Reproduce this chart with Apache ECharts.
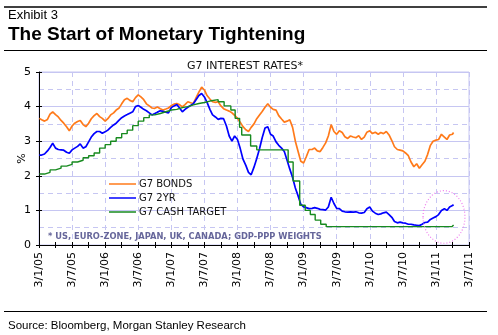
<!DOCTYPE html>
<html>
<head>
<meta charset="utf-8">
<script src="https://cdn.jsdelivr.net/npm/echarts@6/dist/echarts.min.js"></script>
<style>
  html, body { margin: 0; padding: 0; background: #fff; }
  #chart { width: 498px; height: 335px; }
</style>
</head>
<body>
<div id="chart"></div>
<script>
// Observation dates (twice a month) shared by the bond and 2-year series
const obsDates = [
  '2005-01-03','2005-01-16','2005-02-01','2005-02-16','2005-03-01','2005-03-16','2005-04-01','2005-04-16','2005-05-01','2005-05-16','2005-06-01','2005-06-16',
  '2005-07-01','2005-07-16','2005-08-01','2005-08-16','2005-09-01','2005-09-16','2005-10-01','2005-10-16','2005-11-01','2005-11-16','2005-12-01','2005-12-16',
  '2006-01-01','2006-01-16','2006-02-01','2006-02-16','2006-03-01','2006-03-16','2006-04-01','2006-04-16','2006-05-01','2006-05-16','2006-06-01','2006-06-16',
  '2006-07-01','2006-07-16','2006-08-01','2006-08-16','2006-09-01','2006-09-16','2006-10-01','2006-10-16','2006-11-01','2006-11-16','2006-12-01','2006-12-16',
  '2007-01-01','2007-01-16','2007-02-01','2007-02-16','2007-03-01','2007-03-16','2007-04-01','2007-04-16','2007-05-01','2007-05-16','2007-06-01','2007-06-16',
  '2007-07-01','2007-07-16','2007-08-01','2007-08-16','2007-09-01','2007-09-16','2007-10-01','2007-10-16','2007-11-01','2007-11-16','2007-12-01','2007-12-16',
  '2008-01-01','2008-01-16','2008-02-01','2008-02-16','2008-03-01','2008-03-16','2008-04-01','2008-04-16','2008-05-01','2008-05-16','2008-06-01','2008-06-16',
  '2008-07-01','2008-07-16','2008-08-01','2008-08-16','2008-09-01','2008-09-16','2008-10-01','2008-10-16','2008-11-01','2008-11-16','2008-12-01','2008-12-16',
  '2009-01-01','2009-01-16','2009-02-01','2009-02-16','2009-03-01','2009-03-16','2009-04-01','2009-04-16','2009-05-01','2009-05-16','2009-06-01','2009-06-16',
  '2009-07-01','2009-07-16','2009-08-01','2009-08-16','2009-09-01','2009-09-16','2009-10-01','2009-10-16','2009-11-01','2009-11-16','2009-12-01','2009-12-16',
  '2010-01-01','2010-01-16','2010-02-01','2010-02-16','2010-03-01','2010-03-16','2010-04-01','2010-04-16','2010-05-01','2010-05-16','2010-06-01','2010-06-16',
  '2010-07-01','2010-07-16','2010-08-01','2010-08-16','2010-09-01','2010-09-16','2010-10-01','2010-10-16','2010-11-01','2010-11-16','2010-12-01','2010-12-16',
  '2011-01-01','2011-01-16','2011-02-01','2011-02-16','2011-03-01','2011-03-16','2011-04-01','2011-04-07'
];

// G7 10-year bond yields, %
const g7Bonds = [
  3.66,3.62,3.58,3.63,3.78,3.85,3.77,3.70,3.60,3.52,3.42,3.30, 3.44,3.52,3.57,3.60,3.48,3.42,3.52,3.65,3.74,3.80,3.71,3.66,
  3.58,3.65,3.76,3.82,3.90,3.95,4.08,4.20,4.24,4.18,4.14,4.26, 4.34,4.28,4.20,4.08,4.02,3.96,3.95,3.99,3.94,3.90,3.93,3.96,
  4.03,4.07,4.09,4.05,3.99,4.06,4.14,4.11,4.09,4.25,4.42,4.56, 4.48,4.32,4.22,4.14,4.12,4.14,4.02,3.94,3.90,3.87,3.82,3.75,
  3.66,3.55,3.42,3.33,3.28,3.40,3.50,3.65,3.76,3.86,3.98,4.08, 3.98,3.92,3.90,3.74,3.64,3.55,3.58,3.62,3.40,3.00,2.70,2.42,
  2.37,2.55,2.76,2.76,2.80,2.72,2.70,2.82,2.95,3.15,3.48,3.28, 3.20,3.30,3.25,3.13,3.08,3.15,3.12,3.10,3.16,3.05,3.12,3.26,
  3.30,3.22,3.26,3.20,3.25,3.22,3.28,3.18,3.02,2.84,2.76,2.74, 2.72,2.66,2.58,2.40,2.26,2.35,2.22,2.32,2.42,2.62,2.88,3.00,
  3.03,3.05,3.20,3.12,3.05,3.18,3.20,3.25
];

// G7 2-year yields, %
const g7TwoYear = [
  2.60,2.60,2.63,2.72,2.82,2.94,2.80,2.76,2.75,2.74,2.68,2.65, 2.75,2.80,2.85,2.92,2.80,2.84,2.98,3.12,3.22,3.28,3.28,3.23,
  3.27,3.32,3.40,3.47,3.52,3.60,3.68,3.73,3.77,3.81,3.85,4.00, 4.03,3.98,3.92,3.88,3.82,3.76,3.80,3.84,3.88,3.86,3.84,3.82,
  3.97,4.02,4.06,3.95,3.85,3.92,3.98,4.03,4.08,4.20,4.32,4.38, 4.28,4.12,3.92,3.76,3.70,3.63,3.66,3.65,3.44,3.15,3.00,3.15,
  3.05,2.80,2.48,2.30,2.10,2.03,2.25,2.50,2.78,3.10,3.38,3.42, 3.20,3.15,2.98,2.88,2.80,2.70,2.45,2.20,1.95,1.65,1.42,1.18,
  1.10,1.08,1.05,1.06,1.08,1.06,1.03,1.02,1.01,1.10,1.38,1.20, 1.06,1.05,0.98,0.96,0.95,0.96,0.95,0.96,0.93,0.92,0.94,1.05,
  1.10,0.98,0.92,0.88,0.90,0.93,0.95,0.88,0.80,0.68,0.64,0.66, 0.64,0.63,0.60,0.60,0.58,0.57,0.56,0.60,0.65,0.66,0.74,0.78,
  0.82,0.88,1.00,1.05,1.00,1.10,1.14,1.17
];

// G7 policy-rate target: dates on which the weighted target changed, and the new level (%)
const cashDates = [
  '2005-01-03','2005-02-01','2005-03-01','2005-04-01','2005-05-01','2005-06-01','2005-07-01','2005-08-01','2005-09-01','2005-10-01','2005-11-01','2005-12-01',
  '2006-01-01','2006-02-01','2006-03-01','2006-04-01','2006-05-01','2006-06-01','2006-07-01','2006-08-01','2006-09-01','2006-10-01','2006-11-01','2006-12-01',
  '2007-01-01','2007-02-01','2007-03-01','2007-04-01','2007-05-01','2007-06-01','2007-07-01','2007-08-01','2007-09-16','2007-10-19','2007-11-25','2007-12-19',
  '2008-01-13','2008-01-25','2008-03-13','2008-04-16','2008-10-07','2008-11-04','2008-12-10','2009-01-10','2009-02-07','2009-03-04','2009-04-04','2009-05-04',
  '2011-03-29','2011-04-07'
];
const cashTarget = [
  2.05,2.10,2.17,2.22,2.28,2.33,2.40,2.45,2.52,2.58,2.66,2.80,
  2.90,3.00,3.10,3.22,3.32,3.45,3.58,3.68,3.76,3.80,3.85,3.90,
  3.92,3.97,4.00,4.05,4.09,4.12,4.16,4.20,4.14,4.02,3.90,3.66,
  3.40,3.18,2.86,2.75,2.40,1.85,1.15,1.00,0.88,0.72,0.60,0.53,
  0.58,0.58
];

const seriesNames = ['G7 BONDS', 'G7 2YR', 'G7 CASH TARGET'];
const seriesColors = ['#ff7a1a', '#0000ff', '#178a1f'];

// Axis tick labels, one every six months (day/month/year)
const tickLabels = ['3/1/05','3/7/05','3/1/06','3/7/06','3/1/07','3/7/07','3/1/08','3/7/08','3/1/09','3/7/09','3/1/10','3/7/10','3/1/11','3/7/11'];

// Highlighted recent period (centre date, centre level, half-width in months, half-height in %)
const highlight = { date: '2011-02-14', level: 0.81, halfMonths: 3.8, halfLevel: 0.76 };

// Months elapsed since 1 Jan 2005
function toMonth(s) {
  const [y, m, d] = s.split('-').map(Number);
  const dim = new Date(y, m, 0).getDate();
  return (y - 2005) * 12 + (m - 1) + (d - 1) / dim;
}
const pairs = (dates, vals) => dates.map((d, i) => [toMonth(d), vals[i]]);

const gridColor = '#c6c6f2';
const axisFont = 'DejaVu Sans';

const chart = echarts.init(document.getElementById('chart'), null, { renderer: 'canvas' });

const tickStyle = { color: '#000', width: 1 };
chart.setOption({
  animation: false,
  textStyle: { fontFamily: axisFont },
  grid: { left: 39, right: 29, top: 72, bottom: 90, show: true, borderColor: gridColor, borderWidth: 1 },
  xAxis: [{
    type: 'value', min: 0, max: 78, interval: 6,
    axisLine: { show: true, onZero: false, lineStyle: { color: '#000', width: 1 } },
    axisTick: { show: true, length: 3, lineStyle: tickStyle },
    minorTick: { show: true, splitNumber: 2, length: 3, lineStyle: tickStyle },
    axisLabel: { rotate: 90, margin: 7, fontSize: 11, color: '#000', fontFamily: axisFont,
      formatter: v => tickLabels[Math.round(v / 6)] || '' },
    splitLine: { show: true, lineStyle: { color: gridColor, width: 1, type: [5, 4] } }
  }, {
    type: 'value', min: 0, max: 78, interval: 6, position: 'bottom', gridIndex: 0,
    axisLine: { show: false },
    axisTick: { show: true, inside: true, length: 3, lineStyle: tickStyle },
    minorTick: { show: true, splitNumber: 2, length: 3, lineStyle: tickStyle },
    axisLabel: { show: false },
    splitLine: { show: false }
  }],
  yAxis: [{
    type: 'value', min: 0, max: 5, interval: 1,
    name: '%', nameLocation: 'middle', nameGap: 11, nameRotate: 90, nameMoveOverlap: false,
    nameTextStyle: { fontSize: 11, color: '#000', fontFamily: axisFont },
    axisLine: { show: true, onZero: false, lineStyle: { color: '#000', width: 1 } },
    axisTick: { show: true, length: 3, lineStyle: tickStyle },
    axisLabel: { margin: 8, fontSize: 11, color: '#000', fontFamily: axisFont },
    splitLine: { show: true, lineStyle: { color: gridColor, width: 1 } },
    minorTick: { show: false, splitNumber: 2 },
    minorSplitLine: { show: true, lineStyle: { color: gridColor, width: 1, type: [5, 4] } }
  }, {
    type: 'value', min: 0, max: 5, interval: 1, position: 'left', gridIndex: 0,
    axisLine: { show: false },
    axisTick: { show: true, inside: true, length: 3, lineStyle: tickStyle },
    axisLabel: { show: false },
    splitLine: { show: false }
  }],
  legend: {
    orient: 'vertical', left: 104, top: 174,
    icon: 'rect', itemWidth: 27, itemHeight: 1.5, itemGap: 4,
    data: seriesNames,
    textStyle: { fontSize: 10, color: '#111', fontFamily: axisFont, padding: [0, 0, 0, -2] }
  },
  series: [
    { name: seriesNames[0], type: 'line', data: pairs(obsDates, g7Bonds), showSymbol: false, symbol: 'none',
      lineStyle: { color: seriesColors[0], width: 1.7 }, itemStyle: { color: seriesColors[0] } },
    { name: seriesNames[1], type: 'line', data: pairs(obsDates, g7TwoYear), showSymbol: false, symbol: 'none',
      lineStyle: { color: seriesColors[1], width: 1.7 }, itemStyle: { color: seriesColors[1] } },
    { name: seriesNames[2], type: 'line', step: 'end', data: pairs(cashDates, cashTarget), showSymbol: false, symbol: 'none',
      lineStyle: { color: seriesColors[2], width: 1.4 }, itemStyle: { color: seriesColors[2] } }
  ]
});

// Ellipse round the latest move, placed in data coordinates
const hm = toMonth(highlight.date);
const c = chart.convertToPixel({ gridIndex: 0 }, [hm, highlight.level]);
const e = chart.convertToPixel({ gridIndex: 0 }, [hm + highlight.halfMonths, highlight.level + highlight.halfLevel]);

chart.setOption({
  graphic: { elements: [
    { type: 'line', shape: { x1: 4, y1: 7, x2: 487, y2: 7 }, style: { stroke: '#000', lineWidth: 1.5 } },
    { type: 'text', x: 8, y: 15, style: { text: 'Exhibit 3', font: '13px "Liberation Sans"', fill: '#000', verticalAlign: 'middle' } },
    { type: 'text', x: 8, y: 35, style: { text: 'The Start of Monetary Tightening', font: 'bold 19px "Liberation Sans"', fill: '#000', verticalAlign: 'middle' } },
    { type: 'line', shape: { x1: 4, y1: 50.5, x2: 487, y2: 50.5 }, style: { stroke: '#000', lineWidth: 1.2 } },
    { type: 'text', x: 245, y: 66, style: { text: 'G7 INTEREST RATES*', font: '11px "DejaVu Sans"', fill: '#111', align: 'center', verticalAlign: 'middle' } },
    { type: 'text', x: 48, y: 237, style: { text: '* US, EURO-ZONE, JAPAN, UK, CANADA; GDP-PPP WEIGHTS', font: 'bold 8.3px "DejaVu Sans"', fill: '#66669a', verticalAlign: 'middle' } },
    { type: 'ellipse', shape: { cx: c[0], cy: c[1], rx: Math.abs(e[0] - c[0]), ry: Math.abs(c[1] - e[1]) },
      style: { fill: 'none', stroke: '#ee7cee', lineWidth: 1.2, lineDash: [1, 2] }, z: 10 },
    { type: 'line', shape: { x1: 4, y1: 311.5, x2: 487, y2: 311.5 }, style: { stroke: '#000', lineWidth: 1.2 } },
    { type: 'text', x: 8, y: 326, style: { text: 'Source: Bloomberg, Morgan Stanley Research', font: '11.5px "Liberation Sans"', fill: '#000', verticalAlign: 'middle' } }
  ] }
});
</script>
</body>
</html>
